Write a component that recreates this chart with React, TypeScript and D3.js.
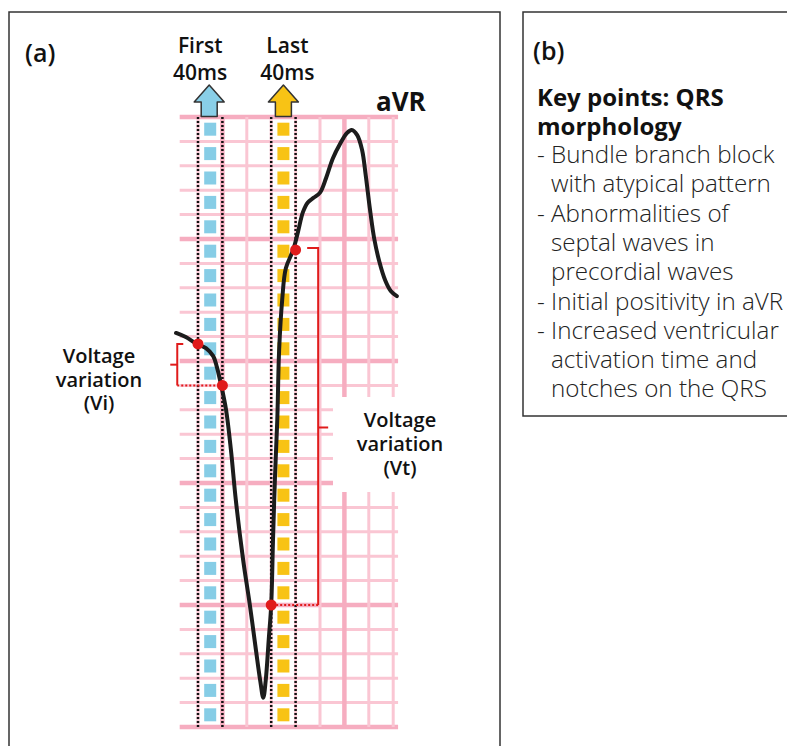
import React from 'react';
import * as d3 from 'd3';

// aVR trace, time in ms from QRS onset, amplitude in mV (1 small box = 40 ms / 0.1 mV)
const traceMs = [-36, -20, -2, 13, 25, 31, 38, 46, 54, 62, 74, 85, 95, 102, 107, 111, 116, 120, 123, 126, 130, 133, 138, 144, 156, 164, 172, 180, 190, 200, 210, 221, 233, 244, 252, 261, 269, 275, 282, 289, 297, 307, 316, 326];
const traceMv = [0.115, 0.098, 0.07, 0.053, 0.02, -0.025, -0.1, -0.2, -0.365, -0.57, -0.815, -1.0, -1.185, -1.31, -1.38, -1.31, -1.14, -1.0, -0.73, -0.49, -0.24, 0.045, 0.25, 0.38, 0.455, 0.53, 0.61, 0.65, 0.67, 0.69, 0.75, 0.83, 0.89, 0.934, 0.947, 0.926, 0.865, 0.76, 0.62, 0.5, 0.41, 0.33, 0.287, 0.266];

const gridMs = [0, 40, 80, 120, 160, 200, 240, 280, 320];
const thickMs = [40, 240];
const gridMv = d3.range(-15, 11).map((d) => d / 10);
const firstWindow = [0, 40];
const lastWindow = [120, 160];

// measurement points [ms, mV]
const viTop = [0, 0.07];
const viBottom = [40, -0.1];
const vtTop = [160, 0.455];
const vtBottom = [120, -1.0];

const titleLines = ['Key points: QRS', 'morphology'];
const keyPoints = [
  '- Bundle branch block',
  'with atypical pattern',
  '- Abnormalities of',
  'septal waves in',
  'precordial waves',
  '- Initial positivity in aVR',
  '- Increased ventricular',
  'activation time and',
  'notches on the QRS',
];

const font = '"Open Sans", "Noto Sans", sans-serif';
const red = '#e01b1b';
const thinPink = '#fac6d3';
const thickPink = '#f6adc0';

const App: React.FC = () => {
  const x = d3.scaleLinear().domain([0, 40]).range([198, 222.4]);
  const y = d3.scaleLinear().domain([-1.5, 1.0]).range([727, 117]);

  const line = d3
    .line<number>()
    .x((_, i) => x(traceMs[i]))
    .y((d) => y(d))
    .curve(d3.curveCatmullRom.alpha(0.5));

  const cells = d3.range(-15, 10).map((k) => (k + 0.5) / 10);

  const arrow = (cx: number) =>
    `M${cx},85 L${cx + 15},102 L${cx + 8},102 L${cx + 8},116.5 L${cx - 8},116.5 L${cx - 8},102 L${cx - 15},102 Z`;

  const viX = x(-34);
  const vtX = x(197);
  const vtMid = (y(vtTop[1]) + y(vtBottom[1])) / 2;
  const viMid = (y(viTop[1]) + y(viBottom[1])) / 2;

  return (
    <svg width={787} height={746} style={{ position: 'absolute', left: 0, top: 0 }} fontFamily={font}>
      <rect width={787} height={746} fill="#fff" />

      {/* panel frames */}
      <rect x={9} y={12} width={491} height={760} fill="none" stroke="#333" strokeWidth={1.5} />
      <rect x={523} y={12} width={280} height={404} fill="none" stroke="#333" strokeWidth={1.5} />

      {/* ECG paper */}
      <g>
        {gridMv.map((v, i) => (
          <line
            key={'h' + i}
            x1={x(-30)}
            x2={x(328)}
            y1={y(v)}
            y2={y(v)}
            stroke={i % 5 === 0 ? thickPink : thinPink}
            strokeWidth={i % 5 === 0 ? 4.5 : 3}
          />
        ))}
        {gridMs.map((t) => (
          <line
            key={'v' + t}
            x1={x(t)}
            x2={x(t)}
            y1={y(1.0)}
            y2={y(-1.5)}
            stroke={thickMs.includes(t) ? thickPink : thinPink}
            strokeWidth={thickMs.includes(t) ? 4.5 : 3}
          />
        ))}
      </g>

      {/* 40 ms windows */}
      {cells.map((c, i) => (
        <g key={'c' + i}>
          <rect x={x(20) - 6} y={y(c) - 6.5} width={12} height={13} fill="#86cde6" />
          <rect x={x(140) - 6} y={y(c) - 6.5} width={12} height={13} fill="#f8c315" />
        </g>
      ))}
      {[...firstWindow, ...lastWindow].map((t) => (
        <line
          key={'d' + t}
          x1={x(t)}
          x2={x(t)}
          y1={y(1.0)}
          y2={y(-1.5)}
          stroke="#111"
          strokeWidth={2.5}
          strokeDasharray="2 2"
        />
      ))}
      <path d={arrow(x(20) - 1)} fill="#89cfe8" stroke="#333" strokeWidth={1.5} strokeLinejoin="round" />
      <path d={arrow(x(140))} fill="#f8c315" stroke="#333" strokeWidth={1.5} strokeLinejoin="round" />

      {/* trace */}
      <path d={line(traceMv) || ''} fill="none" stroke="#1c1c1c" strokeWidth={4} strokeLinecap="round" strokeLinejoin="round" />

      {/* Vi bracket */}
      <g stroke={red} strokeWidth={2} fill="none">
        <path d={`M${viX + 6},${y(viTop[1])} L${viX},${y(viTop[1])} L${viX},${y(viBottom[1])}`} />
        <line x1={viX} x2={viX - 7} y1={viMid} y2={viMid} />
        <line x1={viX} x2={x(viBottom[0])} y1={y(viBottom[1])} y2={y(viBottom[1])} strokeDasharray="2 2" />
      </g>
      {/* Vt bracket */}
      <g stroke={red} strokeWidth={2} fill="none">
        <path d={`M${vtX - 11},${y(0.463)} L${vtX},${y(0.463)} L${vtX},${y(vtBottom[1])}`} />
        <line x1={vtX} x2={vtX + 10} y1={vtMid} y2={vtMid} />
        <line x1={vtX} x2={x(vtBottom[0])} y1={y(vtBottom[1])} y2={y(vtBottom[1])} strokeDasharray="2 2" />
      </g>
      {[viTop, viBottom, vtTop, vtBottom].map((p, i) => (
        <circle key={'p' + i} cx={x(p[0])} cy={y(p[1])} r={5.5} fill={red} />
      ))}

      {/* labels */}
      <text x={25} y={62} fontSize={25} fontWeight={600} fill="#111">(a)</text>
      <g fontSize={21} fontWeight={600} fill="#111" textAnchor="middle">
        <text x={x(20) - 10} y={53}>First</text>
        <text x={x(20) - 10} y={80}>40ms</text>
        <text x={x(140) + 4} y={53}>Last</text>
        <text x={x(140) + 4} y={80}>40ms</text>
      </g>
      <text x={376} y={111} fontSize={26} fontWeight={700} fill="#111">aVR</text>

      <g fontSize={20} fontWeight={600} fill="#111" textAnchor="middle">
        <text x={99} y={363}>Voltage</text>
        <text x={99} y={387}>variation</text>
        <text x={99} y={410}>(Vi)</text>
      </g>
      <rect x={333} y={397} width={107} height={95} fill="#fff" />
      <g fontSize={20} fontWeight={600} fill="#111" textAnchor="middle">
        <text x={400} y={427}>Voltage</text>
        <text x={400} y={451}>variation</text>
        <text x={400} y={475}>(Vt)</text>
      </g>

      {/* panel b */}
      <text x={533} y={60} fontSize={25} fontWeight={600} fill="#111">(b)</text>
      <g fontSize={24} fontWeight={700} fill="#111">
        {titleLines.map((s, i) => (
          <text key={s} x={537} y={106 + i * 28.5}>{s}</text>
        ))}
      </g>
      <g fontSize={24.2} fontWeight={300} fill="#222">
        {keyPoints.map((s, i) => (
          <text key={i} x={s.startsWith('-') ? 537 : 551} y={163 + i * 29.3}>
            {s}
          </text>
        ))}
      </g>
    </svg>
  );
};

export default App;
